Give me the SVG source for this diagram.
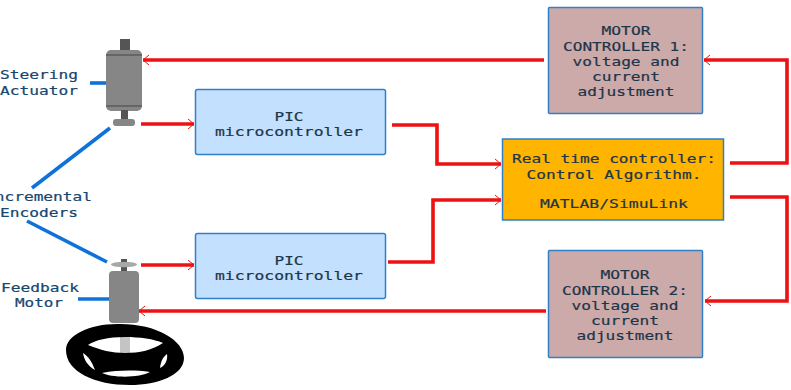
<svg xmlns="http://www.w3.org/2000/svg" width="791" height="390" viewBox="0 0 791 390">
<style>
text{font-family:"DejaVu Sans Mono","Liberation Mono",monospace;font-size:12.8px;fill:#1d3548;text-anchor:middle;stroke:#1d3548;stroke-width:.2}
.lab{fill:#17466e;stroke:#17466e}
.pic{fill:#c3e1ff;stroke:#2f80c8;stroke-width:1.5}
.mc{fill:#cdaaaa;stroke:#2f80c8;stroke-width:1.5}
.rt{fill:#ffb400;stroke:#2f80c8;stroke-width:1.5}
.w{fill:none;stroke:#ee1111;stroke-width:3.6}
.b{fill:none;stroke:#0f72d8;stroke-width:3.6}
.ah{fill:none;stroke:#ee1111;stroke-width:1}
</style>
<defs>
<marker id="arr" markerWidth="9" markerHeight="12" refX="8" refY="6" orient="auto" markerUnits="userSpaceOnUse"><path class="ah" d="M2 1L8 6L2 11"/></marker>
</defs>
<g id="connectors">
<path class="w" marker-end="url(#arr)" d="M544 60H143"/>
<path class="w" marker-end="url(#arr)" d="M141 124H194"/>
<path class="w" marker-end="url(#arr)" d="M392 125H437V164H501"/>
<path class="w" marker-end="url(#arr)" d="M141 265H194"/>
<path class="w" marker-end="url(#arr)" d="M388 262H433V200H501"/>
<path class="w" marker-end="url(#arr)" d="M730 163H787V60H704"/>
<path class="w" marker-end="url(#arr)" d="M730 197H787V301H705"/>
<path class="w" marker-end="url(#arr)" d="M546 311H139"/>
<path class="b" d="M90 83H116"/>
<path class="b" d="M110 128L32 188"/>
<path class="b" d="M27 221L107 262"/>
<path class="b" d="M78 299H121"/>
</g>
<g id="steering-actuator">
<rect x="120" y="39" width="10" height="13" fill="#555"/>
<rect x="106" y="50" width="36" height="61" rx="5" fill="#868686"/>
<path d="M106 55H142M106 106H142" stroke="#444" stroke-width="1"/>
<rect x="121" y="110" width="7" height="10" fill="#555"/>
<rect x="113" y="119" width="22" height="7" rx="3" fill="#868686"/>
<text class="lab" x="39" y="79" textLength="78" lengthAdjust="spacingAndGlyphs">Steering</text>
<text class="lab" x="39" y="95" textLength="78" lengthAdjust="spacingAndGlyphs">Actuator</text>
</g>
<g id="incremental-encoders">
<text class="lab" x="38.500" y="201" textLength="107" lengthAdjust="spacingAndGlyphs">Incremental</text>
<text class="lab" x="39" y="217" textLength="78" lengthAdjust="spacingAndGlyphs">Encoders</text>
</g>
<g id="feedback-motor">
<rect x="121" y="259" width="6" height="13" fill="#555"/>
<ellipse cx="124" cy="264.500" rx="13" ry="2.800" fill="#a8a8a8"/>
<rect x="121" y="259" width="6" height="3" fill="#555"/>
<rect x="109" y="271" width="30" height="52" rx="4" fill="#868686"/>
<rect x="120" y="336" width="10" height="18" fill="#c4c4c4"/>
<text class="lab" x="40" y="292" textLength="78" lengthAdjust="spacingAndGlyphs">Feedback</text>
<text class="lab" x="39" y="307" textLength="48" lengthAdjust="spacingAndGlyphs">Motor</text>
</g>
<g id="steering-wheel">
<path fill="#000" fill-rule="evenodd" d="M117 324C155 323 184 340 184 358C184 375 158 385 130 385C95 385 66 372 66 350C66 335 90 324 117 324ZM125 337C108 337 95 340 88 345C100 350 112 353 125 353C140 353 152 350 163 343C154 339 140 337 125 337ZM83 353C84 360 88 366 95 370C92 362 89 357 83 353ZM167 354C162 358 161 362 160 368C165 366 168 360 167 354ZM102 373C112 378 140 378 150 372C135 370 118 370 102 373Z"/>
</g>
<g id="pic-1">
<rect class="pic" x="195.500" y="89.500" width="190" height="65" rx="2"/>
<text x="289" y="120.500" textLength="29" lengthAdjust="spacingAndGlyphs">PIC</text>
<text x="289" y="135.500" textLength="148" lengthAdjust="spacingAndGlyphs">microcontroller</text>
</g>
<g id="pic-2">
<rect class="pic" x="195.500" y="233.500" width="190" height="65" rx="2"/>
<text x="289" y="264.500" textLength="29" lengthAdjust="spacingAndGlyphs">PIC</text>
<text x="289" y="279.500" textLength="148" lengthAdjust="spacingAndGlyphs">microcontroller</text>
</g>
<g id="real-time-controller">
<rect class="rt" x="502.500" y="139" width="221" height="81"/>
<text x="614" y="163" textLength="204" lengthAdjust="spacingAndGlyphs">Real time controller:</text>
<text x="614" y="179" textLength="175" lengthAdjust="spacingAndGlyphs">Control Algorithm.</text>
<text x="614" y="208" textLength="148" lengthAdjust="spacingAndGlyphs">MATLAB/SimuLink</text>
</g>
<g id="motor-controller-1">
<rect class="mc" x="548.500" y="7.500" width="154" height="106" rx="1"/>
<text x="626" y="35" textLength="49" lengthAdjust="spacingAndGlyphs">MOTOR</text>
<text x="626" y="50.500" textLength="126" lengthAdjust="spacingAndGlyphs">CONTROLLER 1:</text>
<text x="626" y="66" textLength="107" lengthAdjust="spacingAndGlyphs">voltage and</text>
<text x="626" y="81" textLength="68" lengthAdjust="spacingAndGlyphs">current</text>
<text x="626" y="96" textLength="97" lengthAdjust="spacingAndGlyphs">adjustment</text>
</g>
<g id="motor-controller-2">
<rect class="mc" x="548.500" y="250.500" width="154" height="107" rx="1"/>
<text x="625" y="279" textLength="49" lengthAdjust="spacingAndGlyphs">MOTOR</text>
<text x="625" y="294.500" textLength="126" lengthAdjust="spacingAndGlyphs">CONTROLLER 2:</text>
<text x="625" y="310" textLength="107" lengthAdjust="spacingAndGlyphs">voltage and</text>
<text x="625" y="325" textLength="68" lengthAdjust="spacingAndGlyphs">current</text>
<text x="625" y="340" textLength="97" lengthAdjust="spacingAndGlyphs">adjustment</text>
</g>
</svg>
